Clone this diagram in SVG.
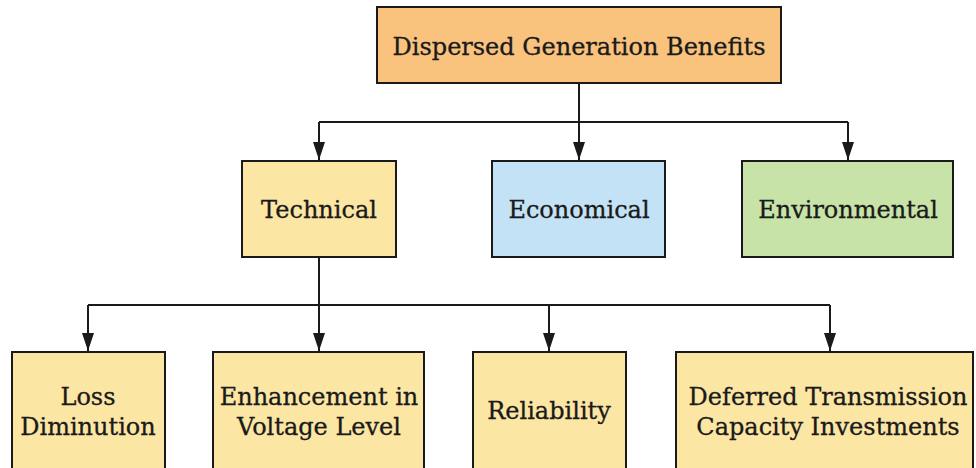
<svg xmlns="http://www.w3.org/2000/svg" width="976" height="468" viewBox="0 0 976 468">
<style>
.box{stroke:#1a1a1a;stroke-width:2}
.t{font-family:"DejaVu Serif","Liberation Serif",serif;font-size:24px;fill:#1a1a1a;text-anchor:middle;stroke:#1a1a1a;stroke-width:0.3}
.c{fill:none;stroke:#1a1a1a;stroke-width:2}
</style>
<defs>
<marker id="ad" markerUnits="userSpaceOnUse" markerWidth="14" markerHeight="18" viewBox="0 0 14 18" refX="7" refY="18" orient="0">
<path d="M1 0 L13 0 L7 18 Z" fill="#1a1a1a"/>
</marker>
</defs>
<rect width="976" height="468" fill="#ffffff"/>
<g id="connectors">
<path class="c" d="M579 83 V122"/>
<path class="c" d="M319 122 H848"/>
<path class="c" d="M319 122 V160" marker-end="url(#ad)"/>
<path class="c" d="M579 122 V160" marker-end="url(#ad)"/>
<path class="c" d="M848 122 V160" marker-end="url(#ad)"/>
<path class="c" d="M319 257 V305"/>
<path class="c" d="M88 305 H830"/>
<path class="c" d="M88 305 V351" marker-end="url(#ad)"/>
<path class="c" d="M319 305 V351" marker-end="url(#ad)"/>
<path class="c" d="M549 305 V351" marker-end="url(#ad)"/>
<path class="c" d="M830 305 V351" marker-end="url(#ad)"/>
</g>
<g id="root">
<rect class="box" x="377" y="7" width="404" height="76" fill="#F9C27D"/>
<text class="t" x="579" y="55">Dispersed Generation Benefits</text>
</g>
<g id="technical">
<rect class="box" x="242" y="161" width="154" height="96" fill="#FCE6A4"/>
<text class="t" x="319" y="218">Technical</text>
</g>
<g id="economical">
<rect class="box" x="492" y="161" width="173" height="96" fill="#C4E2F5"/>
<text class="t" x="579" y="218">Economical</text>
</g>
<g id="environmental">
<rect class="box" x="742" y="161" width="211" height="96" fill="#C8E3A8"/>
<text class="t" x="848" y="218">Environmental</text>
</g>
<g id="loss">
<rect class="box" x="12" y="352" width="153" height="124" fill="#FCE6A4"/>
<text class="t" x="88" y="405">Loss</text>
<text class="t" x="88" y="435">Diminution</text>
</g>
<g id="voltage">
<rect class="box" x="213" y="352" width="211" height="124" fill="#FCE6A4"/>
<text class="t" x="319" y="405">Enhancement in</text>
<text class="t" x="319" y="435">Voltage Level</text>
</g>
<g id="reliability">
<rect class="box" x="473" y="352" width="153" height="124" fill="#FCE6A4"/>
<text class="t" x="549" y="419">Reliability</text>
</g>
<g id="deferred">
<rect class="box" x="676" y="352" width="297" height="124" fill="#FCE6A4"/>
<text class="t" x="828" y="405">Deferred Transmission</text>
<text class="t" x="828" y="435">Capacity Investments</text>
</g>
</svg>
